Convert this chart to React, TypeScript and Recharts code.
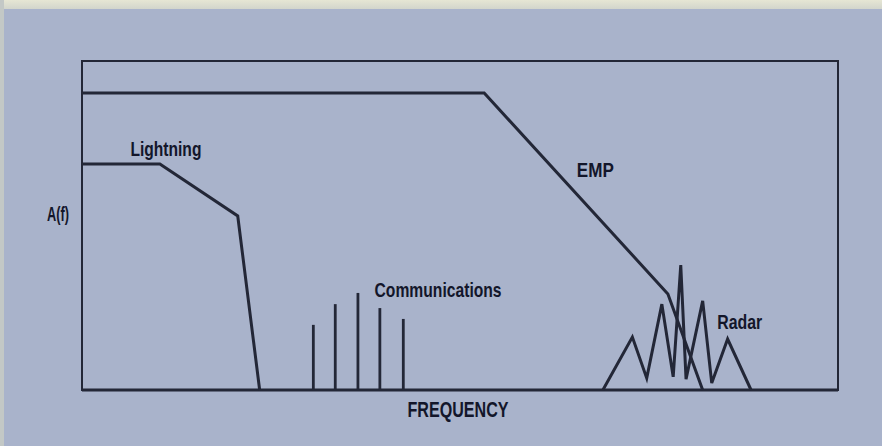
import React from 'react';
import { LineChart, Line, XAxis, YAxis, ReferenceArea, ReferenceLine, ReferenceDot } from 'recharts';

// frequency axis 0..100, amplitude 0..100 (arbitrary units, no ticks in the original)
const lightningFreq = [0, 10.3, 20.6, 23.5];
const lightningAmp = [68.7, 68.7, 52.9, 0];

const empFreq = [0, 53.2, 77.5, 82.1];
const empAmp = [90.3, 90.3, 29.2, 0];

const commFreq = [30.6, 33.5, 36.5, 39.4, 42.5];
const commAmp = [19.8, 26.1, 29.5, 24.9, 21.6];

const radarFreq = [68.9, 72.8, 74.7, 76.7, 78.2, 79.2, 79.9, 82.1, 83.3, 85.4, 88.5];
const radarAmp = [0, 16.1, 3.6, 26.1, 4.0, 38.0, 3.3, 27.1, 2.1, 15.5, 0];

const labels = [
  { text: 'Lightning', f: 11.1, a: 73.3, w: 71 },
  { text: 'EMP', f: 67.9, a: 67.0, w: 37 },
  { text: 'Communications', f: 47.1, a: 30.6, w: 127 },
  { text: 'Radar', f: 87.0, a: 20.7, w: 45 },
];

const ink = '#232737';
const font = "'Liberation Sans', Arial, sans-serif";

// narrow bold lettering squeezed to the width measured on the original
function NarrowText({ x, y, text, width, size }: { x: number; y: number; text: string; width: number; size: number }) {
  return (
    <text
      x={x - width / 2}
      y={y}
      textLength={width}
      lengthAdjust="spacingAndGlyphs"
      dominantBaseline="central"
      fill="#13162a"
      fontSize={size}
      fontWeight="bold"
      fontFamily={font}
    >
      {text}
    </text>
  );
}

const toPoints = (fs: number[], as: number[]) => fs.map((f, i) => ({ f, a: as[i] }));

export default function App() {
  const lightning = toPoints(lightningFreq, lightningAmp);
  const emp = toPoints(empFreq, empAmp);
  const radar = toPoints(radarFreq, radarAmp);

  return (
    <div style={{ position: 'absolute', left: 0, top: 0, width: 882, height: 446, background: '#a9b3cb', overflow: 'hidden' }}>
      <div style={{ position: 'absolute', left: 0, top: 0, width: 882, height: 9, background: 'linear-gradient(#e6e6d4, #d2d5cc)' }} />
      <div style={{ position: 'absolute', left: 0, top: 0, width: 4, height: 446, background: '#c3c8c6' }} />
      <LineChart width={882} height={446} margin={{ top: 61, right: 44, bottom: 0, left: 0 }} style={{ position: 'absolute', left: 0, top: 0 }}>
        <XAxis
          type="number"
          dataKey="f"
          domain={[0, 100]}
          height={56}
          axisLine={false}
          tickLine={false}
          tick={false}
          label={{
            content: (p: any) => (
              <NarrowText x={p.viewBox.x + p.viewBox.width / 2 - 2} y={p.viewBox.y + 19} text="FREQUENCY" width={101} size={22} />
            ),
          }}
        />
        <YAxis
          type="number"
          dataKey="a"
          domain={[0, 100]}
          width={82}
          axisLine={false}
          tickLine={false}
          tick={false}
          label={{
            content: (p: any) => (
              <NarrowText x={58} y={p.viewBox.y + p.viewBox.height / 2 - 12} text="A(f)" width={22} size={20} />
            ),
          }}
        />
        <ReferenceArea x1={0} x2={100} y1={0} y2={100} fill="none" stroke={ink} strokeWidth={2} />
        <ReferenceLine y={0} stroke={ink} strokeWidth={3} />
        {commFreq.map((f, i) => (
          <ReferenceLine key={i} segment={[{ x: f, y: 0 }, { x: f, y: commAmp[i] }]} stroke={ink} strokeWidth={2.8} />
        ))}
        <Line data={lightning} dataKey="a" type="linear" stroke={ink} strokeWidth={3} dot={false} isAnimationActive={false} />
        <Line data={emp} dataKey="a" type="linear" stroke={ink} strokeWidth={3} dot={false} isAnimationActive={false} />
        <Line data={radar} dataKey="a" type="linear" stroke={ink} strokeWidth={3} dot={false} isAnimationActive={false} />
        {labels.map(l => (
          <ReferenceDot
            key={l.text}
            x={l.f}
            y={l.a}
            r={0}
            shape={(p: any) => <NarrowText x={p.cx} y={p.cy} text={l.text} width={l.w} size={21} />}
          />
        ))}
      </LineChart>
    </div>
  );
}
